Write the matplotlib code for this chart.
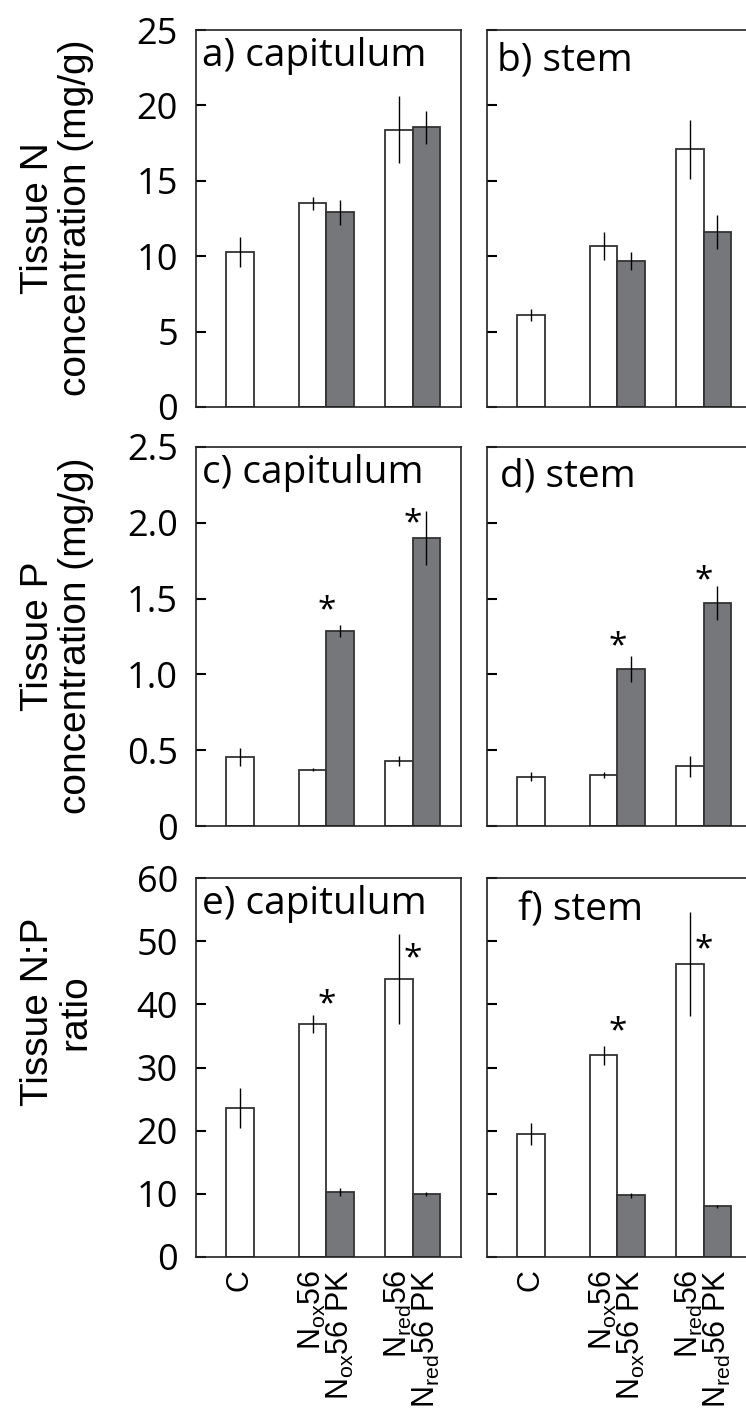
import numpy as np
import matplotlib.pyplot as plt

# ---------------- data ----------------
categories = ["C", "Nox56", "Nred56"]

# white bars: C, Nox56, Nred56 ; gray bars (PK): Nox56 PK, Nred56 PK
n_cap_white = [10.3, 13.5, 18.4]
n_cap_white_err = [1.0, 0.42, 2.25]
n_cap_gray = [12.9, 18.55]
n_cap_gray_err = [0.8, 1.1]

n_stem_white = [6.1, 10.7, 17.1]
n_stem_white_err = [0.43, 0.93, 1.95]
n_stem_gray = [9.7, 11.6]
n_stem_gray_err = [0.6, 1.1]

p_cap_white = [0.457, 0.372, 0.428]
p_cap_white_err = [0.06, 0.01, 0.035]
p_cap_gray = [1.285, 1.90]
p_cap_gray_err = [0.04, 0.18]

p_stem_white = [0.324, 0.337, 0.394]
p_stem_white_err = [0.03, 0.02, 0.07]
p_stem_gray = [1.035, 1.471]
p_stem_gray_err = [0.085, 0.115]

np_cap_white = [23.6, 36.9, 44.0]
np_cap_white_err = [3.1, 1.4, 7.1]
np_cap_gray = [10.3, 10.0]
np_cap_gray_err = [0.6, 0.3]

np_stem_white = [19.5, 31.9, 46.4]
np_stem_white_err = [1.7, 1.5, 8.2]
np_stem_gray = [9.75, 8.0]
np_stem_gray_err = [0.4, 0.3]

# height of the significance stars (Nox56, Nred56 groups)
p_cap_stars = [1.42, 1.99]
p_stem_stars = [1.18, 1.62]
np_cap_stars = [39.9, 47.2]
np_stem_stars = [35.6, 48.7]

xtick_labels = [
    "C",
    "N$_{\\mathregular{ox}}$56\nN$_{\\mathregular{ox}}$56 PK",
    "N$_{\\mathregular{red}}$56\nN$_{\\mathregular{red}}$56 PK",
]

row_ticks = [[0, 5, 10, 15, 20, 25],
             [0, 0.5, 1.0, 1.5, 2.0, 2.5],
             [0, 10, 20, 30, 40, 50, 60]]
row_ticklabels = [["0", "5", "10", "15", "20", "25"],
                  ["0", "0.5", "1.0", "1.5", "2.0", "2.5"],
                  ["0", "10", "20", "30", "40", "50", "60"]]
row_ylabels = ["Tissue N\nconcentration (mg/g)",
               "Tissue P\nconcentration (mg/g)",
               "Tissue N:P\nratio"]

panels = [
    ("a) capitulum", n_cap_white, n_cap_white_err, n_cap_gray, n_cap_gray_err, None),
    ("b) stem", n_stem_white, n_stem_white_err, n_stem_gray, n_stem_gray_err, None),
    ("c) capitulum", p_cap_white, p_cap_white_err, p_cap_gray, p_cap_gray_err, p_cap_stars),
    ("d) stem", p_stem_white, p_stem_white_err, p_stem_gray, p_stem_gray_err, p_stem_stars),
    ("e) capitulum", np_cap_white, np_cap_white_err, np_cap_gray, np_cap_gray_err, np_cap_stars),
    ("f) stem", np_stem_white, np_stem_white_err, np_stem_gray, np_stem_gray_err, np_stem_stars),
]

# ---------------- layout ----------------
W, H = 746, 1408
plt.rcParams['font.family'] = ['Open Sans', 'DejaVu Sans']
plt.rcParams['mathtext.default'] = 'regular'

fig = plt.figure(figsize=(W / 100, H / 100), dpi=100)

col_x = [196, 487]
col_w = 265
row_y = [(30, 407), (447, 826), (878, 1257)]
title_pos = [(6, 36), (10, 40), (6, 36), (13, 40), (6, 36), (31, 42)]  # px from top-left
ylabel_y = [218, 636, 1012]

gray = "#76777b"
edge = "#333333"
bw = 1.0
centers = np.array([0, 3.14, 6.28])

for i, (title, w, we, g, ge, stars) in enumerate(panels):
    r, c = divmod(i, 2)
    top, bot = row_y[r]
    ax = fig.add_axes([col_x[c] / W, 1 - bot / H, col_w / W, (bot - top) / H])

    xw = centers.copy()
    xw[1:] -= bw / 2
    xg = centers[1:] + bw / 2
    ax.bar(xw, w, bw, color="white", edgecolor=edge, linewidth=1.3, zorder=2)
    ax.bar(xg, g, bw, color=gray, edgecolor=edge, linewidth=1.3, zorder=2)
    ax.errorbar(xw, w, yerr=we, fmt="none", ecolor="black", elinewidth=1.0, capsize=0, zorder=3)
    ax.errorbar(xg, g, yerr=ge, fmt="none", ecolor="black", elinewidth=1.0, capsize=0, zorder=3)

    if stars is not None:
        for xs, ys in zip(centers[1:], stars):
            ax.text(xs, ys, "*", ha="center", va="center", fontsize=24)

    ax.set_xlim(-1.6, 8.04)
    ax.set_ylim(row_ticks[r][0], row_ticks[r][-1])
    ax.set_yticks(row_ticks[r])
    if c == 0:
        ax.set_yticklabels(row_ticklabels[r], fontsize=26)
    else:
        ax.set_yticklabels([])
    ax.tick_params(axis="y", direction="in", length=7, width=1.5, pad=13)

    if r == 2:
        ax.set_xticks(centers)
        ax.set_xticklabels(xtick_labels, rotation=90, ha="center", va="top",
                           fontsize=22, family="Liberation Sans")
        for lab in ax.get_xticklabels():
            lab.set_multialignment("right")
            lab.set_linespacing(0.85)
        ax.tick_params(axis="x", length=0, pad=9)
    else:
        ax.set_xticks([])

    for sp in ax.spines.values():
        sp.set_linewidth(1.2)
        sp.set_color("#222222")

    tx, ty = title_pos[i]
    ax.text(tx / col_w, 1 - ty / (bot - top), title, transform=ax.transAxes,
            ha="left", va="baseline", fontsize=28)

    if c == 0:
        fig.text(57 / W, 1 - ylabel_y[r] / H, row_ylabels[r], rotation=90,
                 ha="center", va="center", multialignment="center",
                 fontsize=28, family="Liberation Sans", linespacing=1.05)

fig.savefig("out.png", dpi=100)
